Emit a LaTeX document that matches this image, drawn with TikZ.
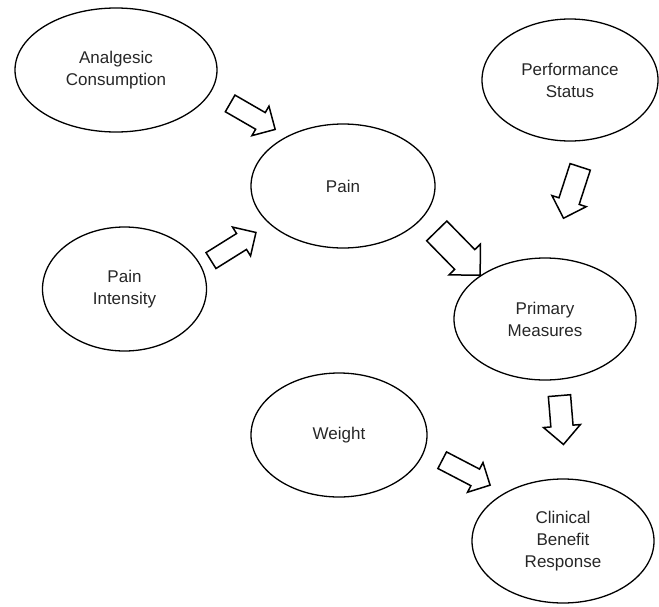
\documentclass[tikz,border=0pt]{standalone}
\usepackage{fontspec}
\setmainfont{Liberation Sans}
\usetikzlibrary{shapes.geometric,shapes.arrows}
\begin{document}
\begin{tikzpicture}[x=1pt,y=-1pt,
  oval/.style={draw=black,line width=1.3pt,ellipse,inner sep=0pt,align=center,
    font=\fontsize{17}{22}\selectfont,text=black!85},
  bigarrow/.style={draw=black,line width=1.5pt,single arrow,inner xsep=0pt,
    single arrow tip angle=90,line join=miter},
  shaft/.style={inner ysep=#1/2}]
\useasboundingbox (0,0) rectangle (659,606);
\node[oval,minimum width=202pt,minimum height=124pt] (anal) at (116,70) {Analgesic\\Consumption};
\node[oval,minimum width=176pt,minimum height=122pt] (perf) at (570,80) {Performance\\Status};
\node[oval,minimum width=184pt,minimum height=124pt] (pain) at (343,186) {Pain};
\node[oval,minimum width=164pt,minimum height=124pt] (int) at (124.5,289) {Pain\\Intensity};
\node[oval,minimum width=182pt,minimum height=122pt] (prim) at (545,319) {Primary\\Measures};
\node[oval,minimum width=176pt,minimum height=124pt] (wt) at (339,435) {Weight};
\node[oval,minimum width=182pt,minimum height=124pt] (cbr) at (563,541) {Clinical\\Benefit\\Response};
\node[bigarrow,shaft=17pt,minimum width=34pt,minimum height=52pt,rotate=-30] (a1) at (248.5,114) {};
\node[bigarrow,shaft=16pt,minimum width=34pt,minimum height=53pt,rotate=32] (a2) at (229.5,249) {};
\node[bigarrow,shaft=24pt,minimum width=44pt,minimum height=62pt,rotate=-45.6] (a3) at (453.5,248) {};
\node[bigarrow,shaft=19pt,minimum width=36pt,minimum height=54pt,rotate=-108] (a4) at (573.5,187.5) {};
\node[bigarrow,shaft=20pt,minimum width=37pt,minimum height=49pt,rotate=-85.3] (a5) at (561,414.5) {};
\node[bigarrow,shaft=16.5pt,minimum width=33.5pt,minimum height=54pt,rotate=-27.5] (a6) at (462,470.5) {};
\end{tikzpicture}
\end{document}
